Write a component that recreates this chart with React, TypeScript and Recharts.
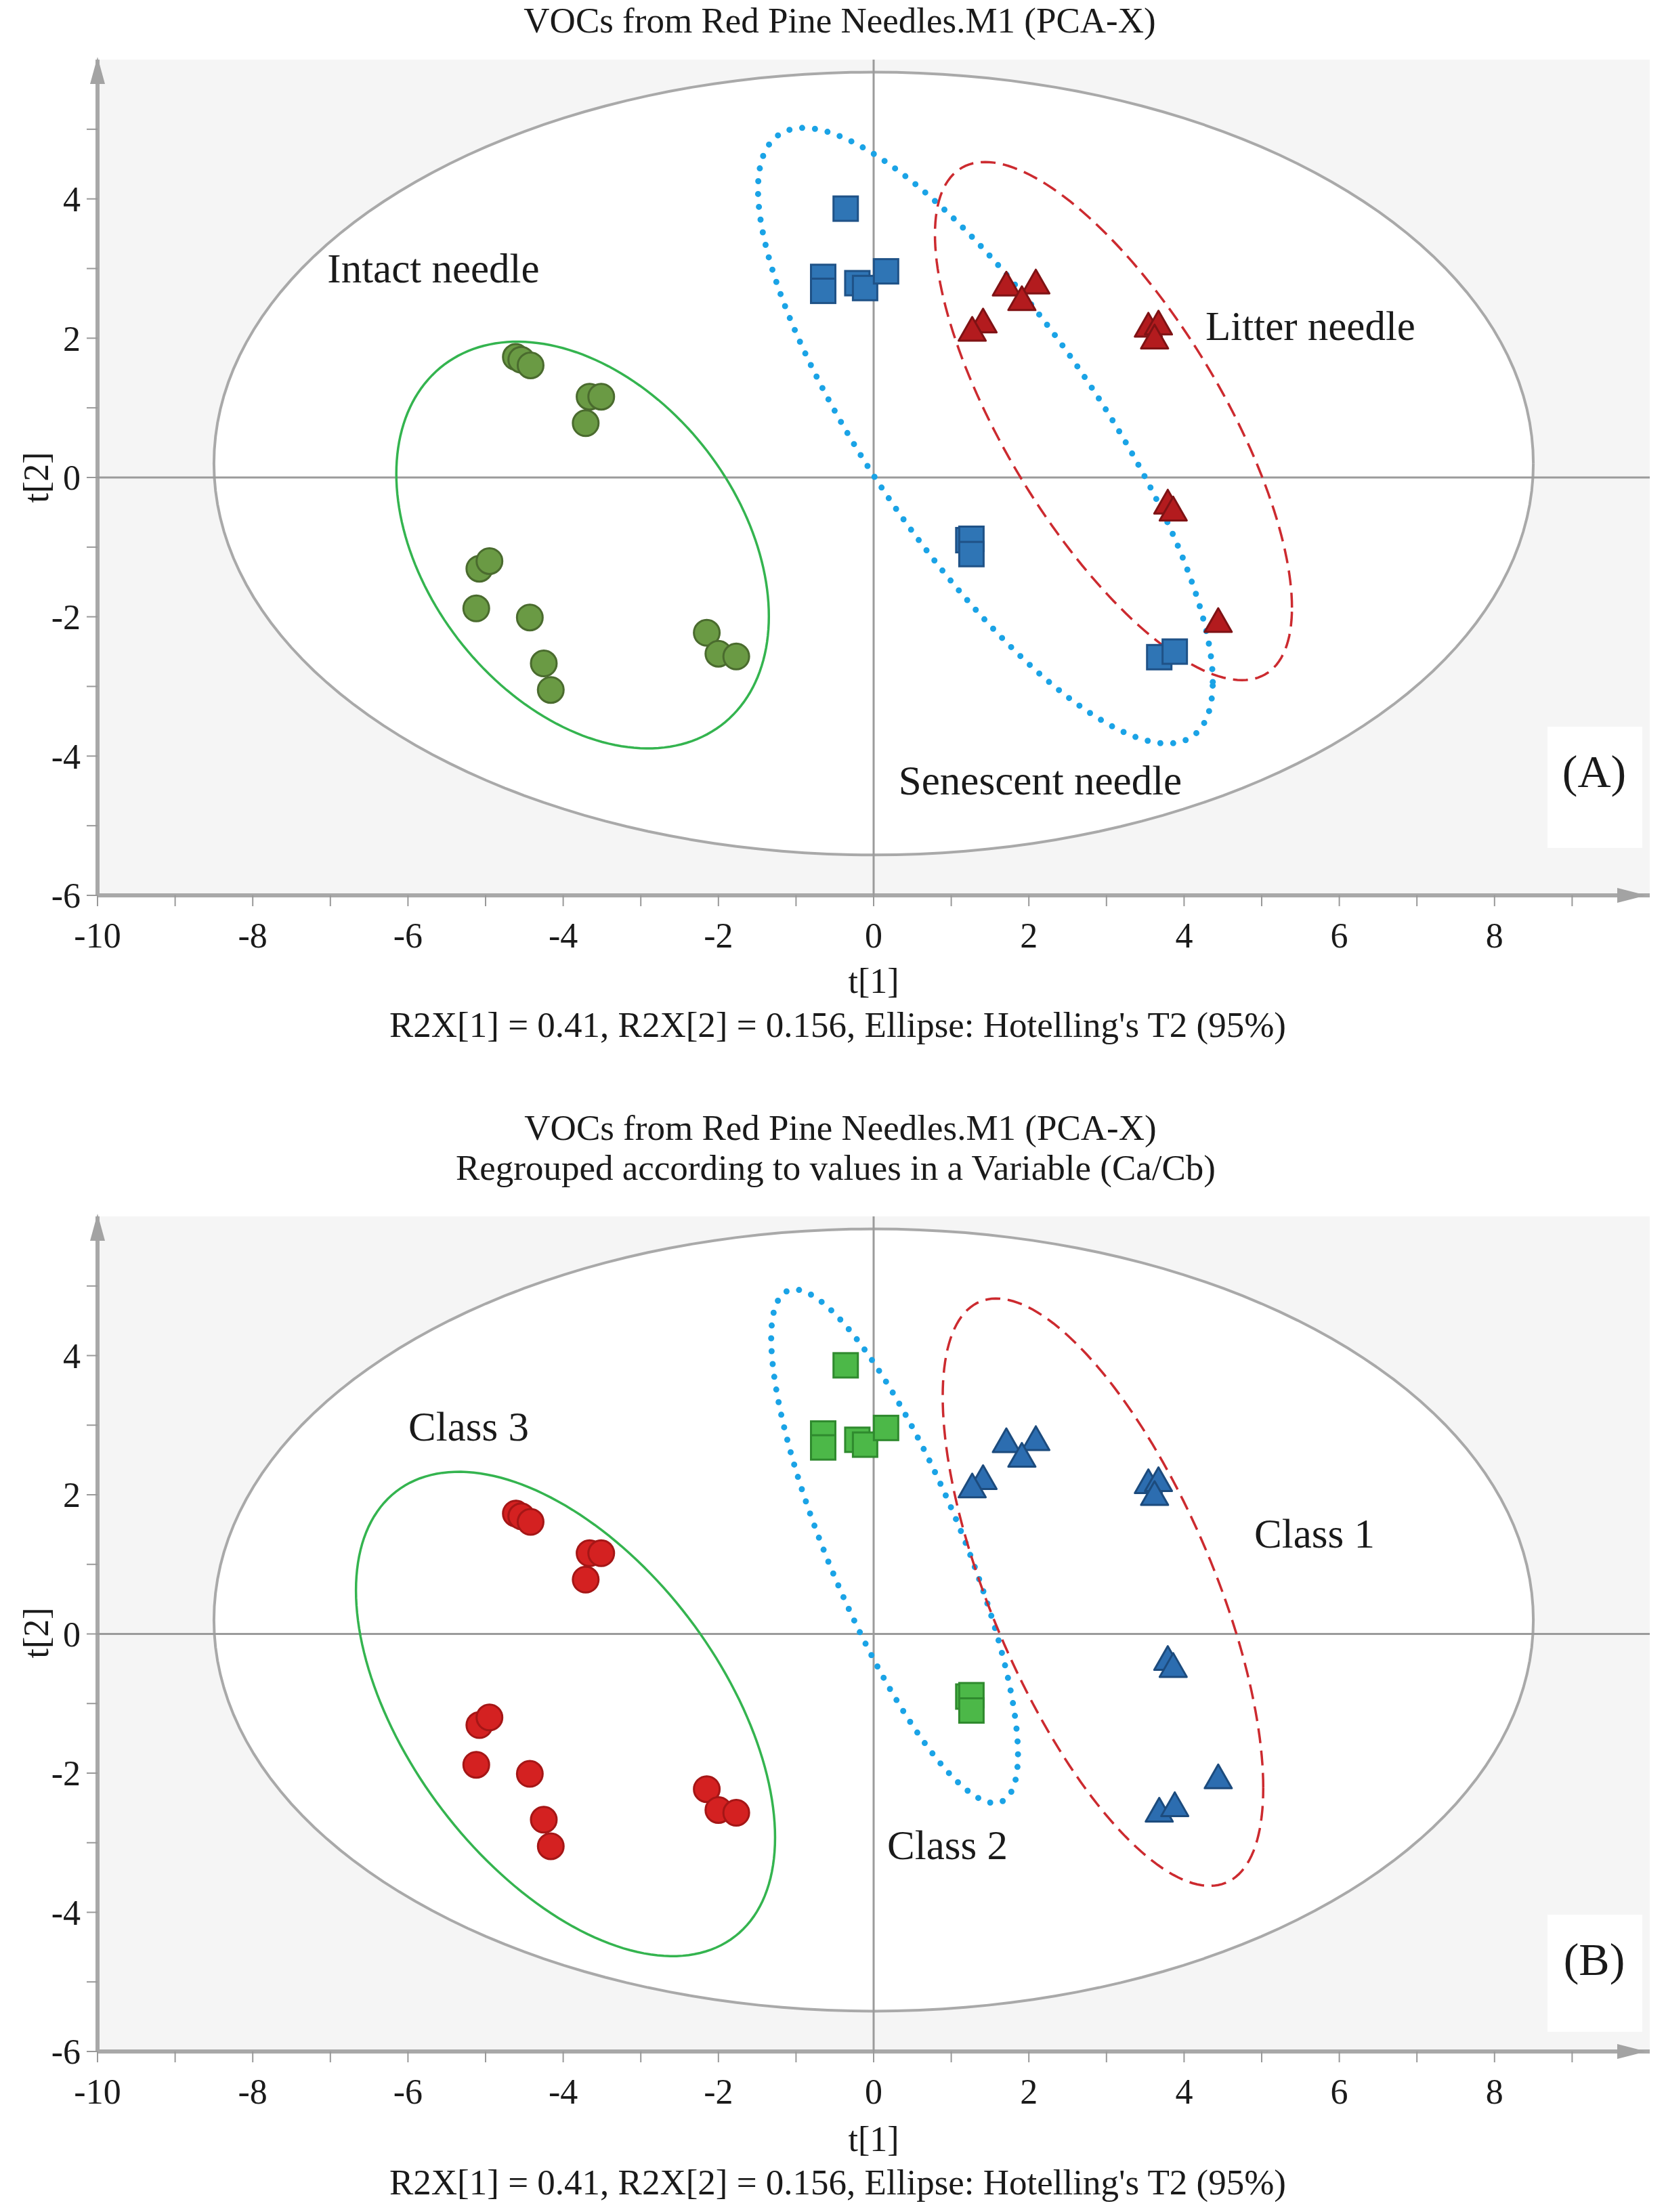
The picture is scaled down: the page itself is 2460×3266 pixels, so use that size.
import React from 'react';
import { ScatterChart, Scatter, XAxis, YAxis, CartesianGrid } from 'recharts';

type Pt = { x: number; y: number };
type Ell = { cx: number; cy: number; w: number; h: number; rho: number };

const SERIF = "'Liberation Serif', 'Times New Roman', serif";

// tick values on both axes (labels shown on even values only)
const X_TICKS = [-10, -9, -8, -7, -6, -5, -4, -3, -2, -1, 0, 1, 2, 3, 4, 5, 6, 7, 8, 9];
const Y_TICKS = [-6, -5, -4, -3, -2, -1, 0, 1, 2, 3, 4, 5];

// score values t[1], t[2] (same samples in both panels)
const circlePts: Pt[] = [
  { x: -4.61, y: 1.73 }, { x: -4.54, y: 1.69 }, { x: -4.42, y: 1.61 },
  { x: -3.66, y: 1.16 }, { x: -3.51, y: 1.16 }, { x: -3.71, y: 0.78 },
  { x: -5.08, y: -1.31 }, { x: -4.95, y: -1.2 }, { x: -5.12, y: -1.88 },
  { x: -4.43, y: -2.01 }, { x: -4.25, y: -2.67 }, { x: -4.16, y: -3.05 },
  { x: -2.15, y: -2.23 }, { x: -2.0, y: -2.53 }, { x: -1.77, y: -2.57 },
];

const squarePts: Pt[] = [
  { x: -0.36, y: 3.86 }, { x: -0.65, y: 2.88 }, { x: -0.65, y: 2.68 },
  { x: -0.21, y: 2.79 }, { x: -0.11, y: 2.72 }, { x: 0.16, y: 2.96 },
  { x: 1.22, y: -0.9 }, { x: 1.26, y: -0.88 }, { x: 1.26, y: -1.1 },
];

const trianglePts: Pt[] = [
  { x: 1.71, y: 2.73 }, { x: 2.09, y: 2.76 }, { x: 1.91, y: 2.52 },
  { x: 1.41, y: 2.2 }, { x: 1.27, y: 2.08 }, { x: 3.54, y: 2.14 },
  { x: 3.67, y: 2.17 }, { x: 3.62, y: 1.97 }, { x: 3.79, y: -0.4 },
  { x: 3.86, y: -0.5 }, { x: 4.44, y: -2.1 },
];

// samples that are squares in (A) and triangles in (B)
const switchedPts: Pt[] = [
  { x: 3.68, y: -2.58 }, { x: 3.88, y: -2.5 },
];

// confidence ellipses: centre, half extents along t[1] / t[2], correlation
const hotelling: Ell = { cx: 0, cy: 0.2, w: 8.5, h: 5.62, rho: 0 };
const intactEll: Ell = { cx: -3.75, cy: -0.97, w: 2.4, h: 2.92, rho: -0.35 };
const senescentEll: Ell = { cx: 1.44, cy: 0.6, w: 2.93, h: 4.42, rho: -0.8 };
const litterEll: Ell = { cx: 3.09, cy: 0.81, w: 2.3, h: 3.72, rho: -0.72 };
const class3Ell: Ell = { cx: -3.97, cy: -1.15, w: 2.7, h: 3.48, rho: -0.51 };
const class2Ell: Ell = { cx: 0.27, cy: 1.26, w: 1.59, h: 3.69, rho: -0.81 };
const class1Ell: Ell = { cx: 2.955, cy: 0.6, w: 2.065, h: 4.22, rho: -0.666 };

const zeroH: Pt[] = [{ x: -10, y: 0 }, { x: 10, y: 0 }];
const zeroV: Pt[] = [{ x: 0, y: -6 }, { x: 0, y: 6 }];
const yArrowPt: Pt[] = [{ x: -10, y: 6 }];
const xArrowPt: Pt[] = [{ x: 10, y: -6 }];

function ellipsePoints(e: Ell): Pt[] {
  const steps = 180;
  const k = Math.sqrt(1 - e.rho * e.rho);
  const pts: Pt[] = [];
  for (let i = 0; i <= steps; i++) {
    const t = (i / steps) * Math.PI * 2;
    pts.push({
      x: e.cx + e.w * Math.cos(t),
      y: e.cy + e.h * (e.rho * Math.cos(t) + k * Math.sin(t)),
    });
  }
  return pts;
}

const noDot = () => <g />;

const circleShape = (fill: string, stroke: string) => (p: any) => (
  <circle cx={p.cx} cy={p.cy} r={19} fill={fill} stroke={stroke} strokeWidth={3} />
);
const squareShape = (fill: string, stroke: string) => (p: any) => (
  <rect x={p.cx - 18} y={p.cy - 18} width={36} height={36} fill={fill} stroke={stroke} strokeWidth={3} />
);
const triangleShape = (fill: string, stroke: string) => (p: any) => (
  <polygon
    points={`${p.cx},${p.cy - 23} ${p.cx + 20},${p.cy + 12} ${p.cx - 20},${p.cy + 12}`}
    fill={fill}
    stroke={stroke}
    strokeWidth={3}
    strokeLinejoin="round"
  />
);

const upArrow = (p: any) => (
  <polygon points={`${p.cx},${p.cy - 4} ${p.cx + 11},${p.cy + 36} ${p.cx - 11},${p.cy + 36}`} fill="#a3a3a3" />
);
const rightArrow = (p: any) => (
  <polygon points={`${p.cx - 5},${p.cy} ${p.cx - 48},${p.cy - 11} ${p.cx - 48},${p.cy + 11}`} fill="#a3a3a3" />
);

type EllStyle = { ell: Ell; stroke: string; width: number; dash?: string; cap?: 'round' | 'butt' };
type MarkerSet = { key: string; data: Pt[]; shape: (p: any) => React.ReactElement };

const evenOnly = (v: number) => (v % 2 === 0 ? String(v) : '');

function PcaPanel({
  top,
  height,
  plotTop,
  axisHeight,
  ellipses,
  markers,
}: {
  top: number;
  height: number;
  plotTop: number;
  axisHeight: number;
  ellipses: EllStyle[];
  markers: MarkerSet[];
}) {
  return (
    <div style={{ position: 'absolute', left: 0, top }}>
      <ScatterChart width={2460} height={height} margin={{ top: plotTop, right: 24, bottom: 0, left: 0 }}>
        <CartesianGrid horizontal={false} vertical={false} fill="#f5f5f5" fillOpacity={1} />
        <XAxis
          type="number"
          dataKey="x"
          domain={[-10, 10]}
          ticks={X_TICKS}
          interval={0}
          height={axisHeight}
          tickSize={16}
          tickMargin={24}
          axisLine={{ stroke: '#a8a8a8', strokeWidth: 6 }}
          tickLine={{ stroke: '#999', strokeWidth: 2 }}
          tick={{ fontSize: 52, fill: '#1a1a1a', fontFamily: SERIF }}
          tickFormatter={evenOnly}
        />
        <YAxis
          type="number"
          dataKey="y"
          domain={[-6, 6]}
          ticks={Y_TICKS}
          interval={0}
          width={144}
          tickSize={16}
          tickMargin={9}
          axisLine={{ stroke: '#a8a8a8', strokeWidth: 6 }}
          tickLine={{ stroke: '#999', strokeWidth: 2 }}
          tick={{ fontSize: 52, fill: '#1a1a1a', fontFamily: SERIF }}
          tickFormatter={evenOnly}
        />
        <Scatter
          data={ellipsePoints(hotelling)}
          shape={noDot}
          fill="none"
          line={{ stroke: '#a9a9a9', strokeWidth: 4, fill: '#ffffff' }}
          isAnimationActive={false}
        />
        <Scatter data={zeroH} shape={noDot} fill="none" line={{ stroke: '#9b9b9b', strokeWidth: 3 }} isAnimationActive={false} />
        <Scatter data={zeroV} shape={noDot} fill="none" line={{ stroke: '#9b9b9b', strokeWidth: 3 }} isAnimationActive={false} />
        {ellipses.map((e, i) => (
          <Scatter
            key={'ell' + i}
            data={ellipsePoints(e.ell)}
            shape={noDot}
            fill="none"
            line={{
              stroke: e.stroke,
              strokeWidth: e.width,
              strokeDasharray: e.dash,
              strokeLinecap: e.cap || 'butt',
              fill: 'none',
            }}
            isAnimationActive={false}
          />
        ))}
        {markers.map((m) => (
          <Scatter key={m.key} data={m.data} shape={m.shape} isAnimationActive={false} />
        ))}
        <Scatter data={yArrowPt} shape={upArrow} isAnimationActive={false} />
        <Scatter data={xArrowPt} shape={rightArrow} isAnimationActive={false} />
      </ScatterChart>
    </div>
  );
}

const greenLine = '#34b44f';
const blueDots = '#1aa3e6';
const redDash = '#cc2a2f';

export default function App() {
  const txt = { fontFamily: SERIF, fill: '#1a1a1a' };
  return (
    <div style={{ position: 'absolute', left: 0, top: 0, width: 2460, height: 3266, background: '#fff' }}>
      <PcaPanel
        top={0}
        height={1620}
        plotTop={88}
        axisHeight={298}
        ellipses={[
          { ell: intactEll, stroke: greenLine, width: 3.5 },
          { ell: senescentEll, stroke: blueDots, width: 9, dash: '0 19', cap: 'round' },
          { ell: litterEll, stroke: redDash, width: 3.5, dash: '22 11' },
        ]}
        markers={[
          { key: 'intact', data: circlePts, shape: circleShape('#6a9a44', '#4a6b2e') },
          { key: 'senescent', data: [...squarePts, ...switchedPts], shape: squareShape('#2f75b5', '#1f5287') },
          { key: 'litter', data: trianglePts, shape: triangleShape('#b31b1e', '#7f1214') },
        ]}
      />
      <PcaPanel
        top={1620}
        height={1646}
        plotTop={176}
        axisHeight={237}
        ellipses={[
          { ell: class3Ell, stroke: greenLine, width: 3.5 },
          { ell: class2Ell, stroke: blueDots, width: 9, dash: '0 19', cap: 'round' },
          { ell: class1Ell, stroke: redDash, width: 3.5, dash: '22 11' },
        ]}
        markers={[
          { key: 'class3', data: circlePts, shape: circleShape('#d42121', '#a51616') },
          { key: 'class2', data: squarePts, shape: squareShape('#4cb848', '#2f8a2e') },
          { key: 'class1', data: [...trianglePts, ...switchedPts], shape: triangleShape('#2c6db0', '#1c4b7d') },
        ]}
      />
      <svg
        width={2460}
        height={3266}
        style={{ position: 'absolute', left: 0, top: 0, pointerEvents: 'none' }}
      >
        {/* panel A */}
        <text {...txt} x={1240} y={48} fontSize={53} textAnchor="middle">VOCs from Red Pine Needles.M1 (PCA-X)</text>
        <text {...txt} x={1290} y={1466} fontSize={52} textAnchor="middle">t[1]</text>
        <text {...txt} x={1237} y={1531} fontSize={53} textAnchor="middle">
          R2X[1] = 0.41, R2X[2] = 0.156, Ellipse: Hotelling's T2 (95%)
        </text>
        <text {...txt} transform="translate(71,705) rotate(-90)" fontSize={52} textAnchor="middle">t[2]</text>
        <text {...txt} x={640} y={417} fontSize={61} textAnchor="middle">Intact needle</text>
        <text {...txt} x={1935} y={502} fontSize={61} textAnchor="middle">Litter needle</text>
        <text {...txt} x={1536} y={1173} fontSize={61} textAnchor="middle">Senescent needle</text>
        <rect x={2285} y={1073} width={140} height={179} fill="#ffffff" />
        <text {...txt} x={2354} y={1162} fontSize={68} textAnchor="middle">(A)</text>

        {/* panel B */}
        <text {...txt} x={1241} y={1683} fontSize={53} textAnchor="middle">VOCs from Red Pine Needles.M1 (PCA-X)</text>
        <text {...txt} x={1234} y={1742} fontSize={53} textAnchor="middle">
          Regrouped according to values in a Variable (Ca/Cb)
        </text>
        <text {...txt} x={1290} y={3176} fontSize={52} textAnchor="middle">t[1]</text>
        <text {...txt} x={1237} y={3240} fontSize={53} textAnchor="middle">
          R2X[1] = 0.41, R2X[2] = 0.156, Ellipse: Hotelling's T2 (95%)
        </text>
        <text {...txt} transform="translate(71,2411) rotate(-90)" fontSize={52} textAnchor="middle">t[2]</text>
        <text {...txt} x={692} y={2127} fontSize={61} textAnchor="middle">Class 3</text>
        <text {...txt} x={1941} y={2285} fontSize={61} textAnchor="middle">Class 1</text>
        <text {...txt} x={1399} y={2745} fontSize={61} textAnchor="middle">Class 2</text>
        <rect x={2285} y={2827} width={140} height={173} fill="#ffffff" />
        <text {...txt} x={2354} y={2916} fontSize={68} textAnchor="middle">(B)</text>
      </svg>
    </div>
  );
}
